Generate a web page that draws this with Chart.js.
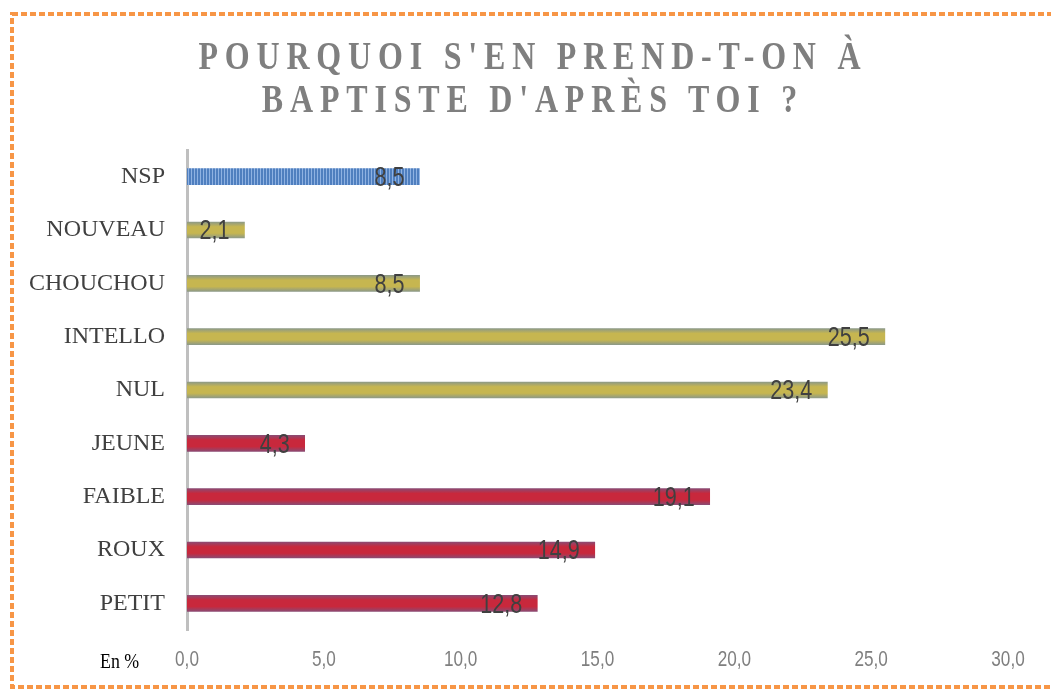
<!DOCTYPE html>
<html>
<head>
<meta charset="utf-8">
<script src="https://cdn.jsdelivr.net/npm/chart.js@4"></script>
<style>
html, body { margin: 0; padding: 0; background: #fff; }
#wrap { position: relative; width: 1051px; height: 690px; overflow: hidden; }
#title {
    position: absolute; left: 0; top: 34px; width: 1066px; z-index: 2;
    text-align: center; font-family: "Liberation Serif", serif; font-size: 40px;
    font-weight: bold; line-height: 43px; letter-spacing: 8.5px; color: #7f7f7f;
    transform: scaleX(0.8); transform-origin: 533px 0;
}
canvas { position: absolute; left: 0; top: 0; }
</style>
</head>
<body>
<div id="wrap">
    <div id="title">POURQUOI S'EN PREND-T-ON À<br>BAPTISTE D'APRÈS TOI ?</div>
    <canvas id="chart" width="1051" height="690"></canvas>
</div>
<script>
var categories = ["NSP", "NOUVEAU", "CHOUCHOU", "INTELLO", "NUL", "JEUNE", "FAIBLE", "ROUX", "PETIT"];
var values = [8.5, 2.1, 8.5, 25.5, 23.4, 4.3, 19.1, 14.9, 12.8];
var groups = ["nsp", "jaune", "jaune", "jaune", "jaune", "rouge", "rouge", "rouge", "rouge"];
var xTicks = [0, 5, 10, 15, 20, 25, 30];

var groupColors = {
    nsp: { main: "#5b8ac8", edge: "#4f78b0" },
    jaune: { main: "#c6b650", edge: "#8e9a86" },
    rouge: { main: "#c8283c", edge: "#8c4a72" }
};

function frNum(v) {
    return v.toFixed(1).replace(".", ",");
}

// narrow text: no condensed font installed, so squeeze it
function narrowText(ctx, text, x, y, align, squeeze) {
    ctx.save();
    ctx.translate(x, y);
    ctx.scale(squeeze, 1);
    ctx.textAlign = align;
    ctx.fillText(text, 0, 0);
    ctx.restore();
}

// vertical stripes for the NSP bar
function stripePattern(ctx) {
    var c = document.createElement("canvas");
    c.width = 3;
    c.height = 1;
    var p = c.getContext("2d");
    p.fillStyle = "#4f7fbf";
    p.fillRect(0, 0, 3, 1);
    p.fillStyle = "#8fb2e2";
    p.fillRect(2, 0, 1, 1);
    return ctx.createPattern(c, "repeat");
}

function barFill(context) {
    var chart = context.chart;
    var i = context.dataIndex;
    var col = groupColors[groups[i]];
    if (!chart.chartArea || !chart.scales.y) return col.main;
    if (groups[i] === "nsp") return stripePattern(chart.ctx);
    var y = chart.scales.y.getPixelForValue(i);
    var grad = chart.ctx.createLinearGradient(0, y - 8, 0, y + 8);
    grad.addColorStop(0, col.edge);
    grad.addColorStop(0.3, col.main);
    grad.addColorStop(0.7, col.main);
    grad.addColorStop(1, col.edge);
    return grad;
}

var frame = {
    id: "frame",
    beforeDraw: function (chart) {
        var ctx = chart.ctx;
        ctx.save();
        ctx.strokeStyle = "#f79646";
        ctx.lineWidth = 4;
        ctx.setLineDash([6, 3]);
        ctx.strokeRect(12, 14, 1060, 673);
        ctx.restore();
    },
    afterDraw: function (chart) {
        var ctx = chart.ctx;
        var xs = chart.scales.x;
        ctx.save();
        ctx.textBaseline = "middle";
        ctx.fillStyle = "#7f7f7f";
        ctx.font = "22px 'Liberation Sans'";
        xTicks.forEach(function (v) {
            narrowText(ctx, frNum(v), xs.getPixelForValue(v), 660, "center", 0.78);
        });
        ctx.fillStyle = "#000";
        ctx.font = "21px 'Liberation Serif'";
        narrowText(ctx, "En %", 100, 662, "left", 0.85);
        ctx.restore();
    }
};

var valueLabels = {
    id: "valueLabels",
    afterDatasetsDraw: function (chart) {
        var ctx = chart.ctx;
        var meta = chart.getDatasetMeta(0);
        ctx.save();
        ctx.fillStyle = "#404040";
        ctx.font = "27px 'Liberation Sans'";
        ctx.textBaseline = "middle";
        meta.data.forEach(function (bar, i) {
            narrowText(ctx, frNum(values[i]), bar.x - 15, bar.y + 2, "right", 0.8);
        });
        ctx.restore();
    }
};

var chart = new Chart(document.getElementById("chart").getContext("2d"), {
    type: "bar",
    data: {
        labels: categories,
        datasets: [
            {
                data: values,
                backgroundColor: barFill,
                barThickness: 16,
                borderWidth: 0
            }
        ]
    },
    options: {
        responsive: false,
        animation: false,
        indexAxis: "y",
        layout: {
            padding: { top: 150, bottom: 15, left: 0, right: 43 }
        },
        plugins: {
            legend: { display: false },
            tooltip: { enabled: false },
            title: { display: false }
        },
        scales: {
            y: {
                grid: { display: false, drawTicks: false },
                border: { display: true, color: "#bfbfbf", width: 3 },
                ticks: {
                    padding: 22,
                    color: "#404040",
                    font: { family: "Liberation Serif", size: 24 }
                },
                afterFit: function (scale) {
                    scale.width = 187;
                }
            },
            x: {
                min: 0,
                max: 30,
                grid: { display: false, drawTicks: false },
                border: { display: false },
                afterBuildTicks: function (scale) {
                    scale.ticks = xTicks.map(function (v) { return { value: v }; });
                },
                ticks: { display: false },
                afterFit: function (scale) {
                    scale.height = 45;
                }
            }
        }
    },
    plugins: [frame, valueLabels]
});
</script>
</body>
</html>
